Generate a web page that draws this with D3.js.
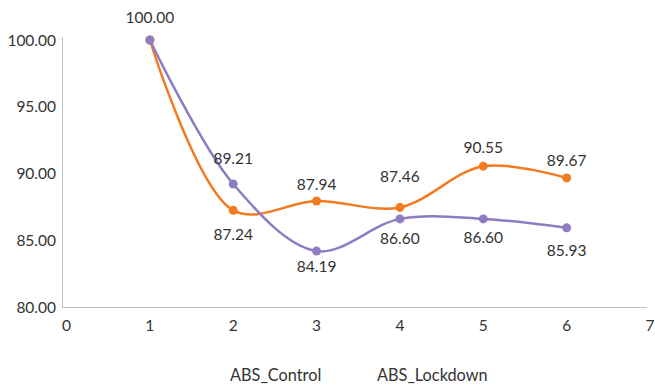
<!DOCTYPE html>
<html><head><meta charset="utf-8">
<script src="https://cdn.jsdelivr.net/npm/d3@7"></script>
<style>body{margin:0;background:#fff}svg{display:block}text{font-family:Lato,"Open Sans",sans-serif;fill:#333}</style>
</head><body><svg id="c" width="655" height="385"></svg>
<script>
const xValues = [1, 2, 3, 4, 5, 6];
const controlValues = [100.00, 87.24, 87.94, 87.46, 90.55, 89.67];
const lockdownValues = [100.00, 89.21, 84.19, 86.60, 86.60, 85.93];
const seriesNames = ["ABS_Control", "ABS_Lockdown"];
const xTicks = [0, 1, 2, 3, 4, 5, 6, 7];
const yTicks = [80, 85, 90, 95, 100];

// label layout (vertical offset of label centre from the point, px; null = hidden)
const controlLabelOffset = [null, 24, -16.5, -31, -18.7, -17.7];
const lockdownLabelOffset = [-22.7, -26, 15, 19.7, 18.3, 22.3];

const svg = d3.select("#c");
const x = d3.scaleLinear().domain([0, 7]).range([66.5, 650]);
const y = d3.scaleLinear().domain([80, 100]).range([307, 40]);

svg.append("line").attr("x1", 62.5).attr("x2", 62.5).attr("y1", 37).attr("y2", 307.5)
  .attr("stroke", "#bfbfbf").attr("stroke-width", 1);
svg.append("line").attr("x1", 62).attr("x2", 647).attr("y1", 307.5).attr("y2", 307.5)
  .attr("stroke", "#bfbfbf").attr("stroke-width", 1);

svg.selectAll(".yt").data(yTicks).enter().append("text")
  .attr("x", 56).attr("y", d => y(d) + 5.5).attr("text-anchor", "end")
  .attr("font-size", 15.5).text(d => d.toFixed(2));
svg.selectAll(".xt").data(xTicks).enter().append("text")
  .attr("x", d => x(d)).attr("y", 331).attr("text-anchor", "middle")
  .attr("font-size", 15.5).text(d => d);

const series = [
  {name: seriesNames[0], vals: controlValues, off: controlLabelOffset, color: "#f47a20"},
  {name: seriesNames[1], vals: lockdownValues, off: lockdownLabelOffset, color: "#8e7cc3"}
];
const line = d3.line().x((d, i) => x(xValues[i])).y(d => y(d)).curve(d3.curveCatmullRom.alpha(0.5));

series.forEach(s => {
  svg.append("path").attr("d", line(s.vals)).attr("fill", "none")
    .attr("stroke", s.color).attr("stroke-width", 2.5);
});
series.forEach(s => {
  svg.selectAll(null).data(s.vals).enter().append("circle")
    .attr("cx", (d, i) => x(xValues[i])).attr("cy", d => y(d)).attr("r", 4.5).attr("fill", s.color);
});
series.forEach(s => {
  const pts = s.vals.map((v, i) => ({xv: xValues[i], v: v, o: s.off[i]})).filter(d => d.o !== null);
  svg.selectAll(null).data(pts).enter().append("text")
    .attr("x", d => x(d.xv))
    .attr("y", d => y(d.v) + d.o + 5.5)
    .attr("text-anchor", "middle").attr("font-size", 15.5)
    .text(d => d.v.toFixed(2));
});

svg.append("text").attr("x", 230).attr("y", 381).attr("font-size", 16.3).text(seriesNames[0]);
svg.append("text").attr("x", 377).attr("y", 381).attr("font-size", 16.3).text(seriesNames[1]);
</script></body></html>
